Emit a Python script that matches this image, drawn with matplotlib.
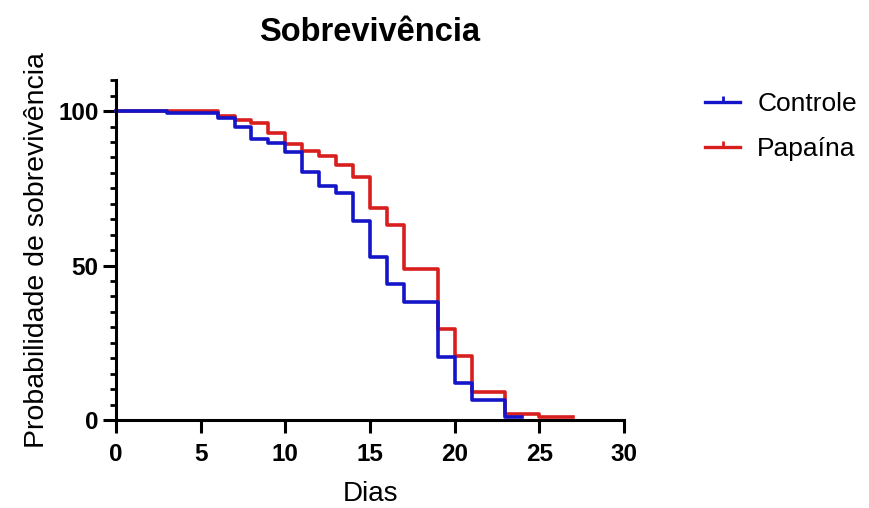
import matplotlib.pyplot as plt
from matplotlib.lines import Line2D
from matplotlib.path import Path
from matplotlib.ticker import MultipleLocator

plt.rcParams['font.family'] = ['Liberation Sans', 'DejaVu Sans']

# Kaplan-Meier steps (day, % survival)
ctrl_days = [0, 3, 6, 7, 8, 9, 10, 11, 12, 13, 14, 15, 16, 17, 19, 20, 21, 23, 24]
ctrl_surv = [100, 99.5, 97.8, 94.8, 91.0, 89.6, 86.9, 80.4, 75.7, 73.6, 64.5, 52.9, 44.0, 38.3,
             20.5, 11.9, 6.5, 1.1, 1.1]
pap_days = [0, 6, 7, 8, 9, 10, 11, 12, 13, 14, 15, 16, 17, 19, 20, 21, 23, 25, 27]
pap_surv = [100, 98.3, 97.1, 96.2, 93.0, 89.4, 87.2, 85.4, 82.7, 78.5, 68.5, 63.1, 49.0,
            29.3, 20.7, 9.2, 1.8, 0.9, 0.9]

blue = '#1414c8'
red = '#d91e1e'

fig = plt.figure(figsize=(8.69, 5.08), dpi=100)
ax = fig.add_axes([0.1335, 0.1732, 0.5846, 0.669])

ax.step(pap_days, pap_surv, where='post', color=red, lw=2.6, clip_on=False)
ax.step(ctrl_days, ctrl_surv, where='post', color=blue, lw=2.6, clip_on=False)

ax.set_xlim(0, 30)
ax.set_ylim(0, 110)
ax.set_xticks([0, 5, 10, 15, 20, 25, 30])
ax.set_yticks([0, 50, 100])
ax.yaxis.set_minor_locator(MultipleLocator(5))

for s in ['top', 'right']:
    ax.spines[s].set_visible(False)
for s in ['left', 'bottom']:
    ax.spines[s].set_linewidth(2.2)

ax.tick_params(axis='both', which='major', width=2.2, length=9.5, labelsize=17.5)
ax.tick_params(axis='x', which='major', pad=7)
ax.tick_params(axis='y', which='major', pad=3)
ax.tick_params(axis='y', which='minor', width=2.0, length=4)
for lab in ax.get_xticklabels() + ax.get_yticklabels():
    lab.set_fontweight('bold')

ax.set_xlabel('Dias', fontsize=20, labelpad=11)
ax.set_ylabel('Probabilidade de sobrevivência', fontsize=20.5, labelpad=6)
ax.set_title('Sobrevivência', fontsize=23.5, fontweight='bold', pad=28)

tick = Path([(0, 0), (0, 1)], [Path.MOVETO, Path.LINETO])
handles = [Line2D([], [], color=blue, lw=2.4, marker=tick, markersize=9, markeredgewidth=2),
           Line2D([], [], color=red, lw=2.4, marker=tick, markersize=9, markeredgewidth=2)]
fig.legend(handles, ['Controle', 'Papaína'], loc='upper left', bbox_to_anchor=(0.784, 0.866),
           frameon=False, fontsize=19, handlelength=1.33, handletextpad=0.65, labelspacing=0.8)

fig.savefig('out.png', dpi=100)
